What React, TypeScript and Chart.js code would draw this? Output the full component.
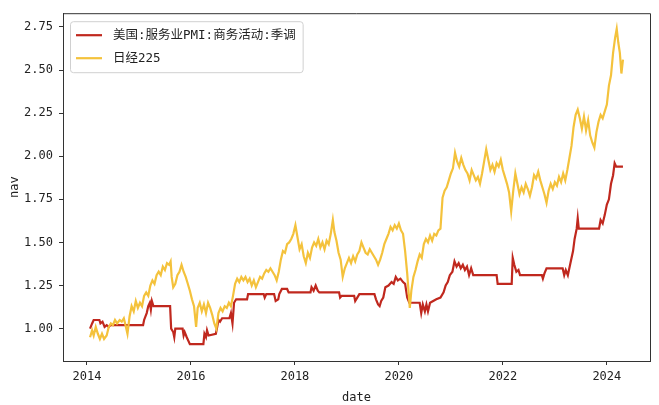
import React, { useEffect, useRef } from "react";
import { Chart, registerables } from "chart.js";
Chart.register(...registerables);

const seriesLabels = ["美国:服务业PMI:商务活动:季调", "日经225"];
const seriesColors = ["#c0281e", "#f4c23c"];

const pmiDates = [
  2014.06, 2014.10, 2014.13, 2014.24, 2014.26, 2014.30, 2014.34, 2014.38, 2014.42, 2014.45,
  2015.08, 2015.10, 2015.15, 2015.18, 2015.21, 2015.23, 2015.25, 2015.28, 2015.60, 2015.62,
  2015.66, 2015.68, 2015.70, 2015.84, 2015.86, 2015.88, 2015.92, 2015.98, 2016.24, 2016.26,
  2016.29, 2016.31, 2016.34, 2016.48, 2016.50, 2016.53, 2016.56, 2016.60, 2016.74, 2016.77,
  2016.80, 2016.83, 2016.87, 2017.08, 2017.10, 2017.40, 2017.42, 2017.45, 2017.60, 2017.63,
  2017.68, 2017.70, 2017.75, 2017.85, 2017.88, 2018.30, 2018.32, 2018.36, 2018.40, 2018.44,
  2018.47, 2018.85, 2018.87, 2018.90, 2019.14, 2019.16, 2019.20, 2019.24, 2019.53, 2019.56,
  2019.60, 2019.63, 2019.66, 2019.70, 2019.74, 2019.80, 2019.86, 2019.90, 2019.94, 2019.98,
  2020.03, 2020.08, 2020.12, 2020.16, 2020.20, 2020.40, 2020.43, 2020.46, 2020.50, 2020.53,
  2020.56, 2020.60, 2020.66, 2020.72, 2020.80, 2020.86, 2020.90, 2020.94, 2020.98, 2021.03,
  2021.07, 2021.11, 2021.15, 2021.19, 2021.23, 2021.27, 2021.31, 2021.35, 2021.39, 2021.43,
  2021.88, 2021.90, 2022.17, 2022.19, 2022.22, 2022.26, 2022.30, 2022.33, 2022.75, 2022.77,
  2022.80, 2022.84, 2023.15, 2023.18, 2023.21, 2023.25, 2023.30, 2023.35, 2023.38, 2023.42,
  2023.44, 2023.46, 2023.85, 2023.88, 2023.92, 2023.96, 2024.00, 2024.04, 2024.08, 2024.12,
  2024.15, 2024.18, 2024.31,
];
const pmiNav = [
  1.00, 1.03, 1.05, 1.05, 1.03, 1.04, 1.01, 1.02, 1.01, 1.02,
  1.02, 1.05, 1.09, 1.13, 1.15, 1.11, 1.16, 1.13, 1.13, 1.00,
  0.98, 0.95, 1.00, 1.00, 0.96, 0.98, 0.95, 0.91, 0.91, 0.97,
  0.95, 0.99, 0.96, 0.97, 1.00, 1.05, 1.04, 1.06, 1.06, 1.09,
  1.03, 1.15, 1.17, 1.17, 1.20, 1.20, 1.18, 1.20, 1.20, 1.16,
  1.17, 1.20, 1.23, 1.23, 1.21, 1.21, 1.24, 1.22, 1.25, 1.22,
  1.21, 1.21, 1.18, 1.19, 1.19, 1.16, 1.18, 1.20, 1.20, 1.17,
  1.14, 1.13, 1.16, 1.18, 1.24, 1.25, 1.27, 1.26, 1.30, 1.28,
  1.29, 1.27, 1.26, 1.18, 1.15, 1.15, 1.09, 1.14, 1.10, 1.14,
  1.10, 1.15, 1.16, 1.17, 1.18, 1.21, 1.25, 1.27, 1.31, 1.33,
  1.39, 1.36, 1.38, 1.35, 1.37, 1.34, 1.36, 1.31, 1.35, 1.31,
  1.31, 1.26, 1.26, 1.41, 1.37, 1.33, 1.34, 1.31, 1.31, 1.29,
  1.32, 1.35, 1.35, 1.31, 1.34, 1.31, 1.38, 1.45, 1.52, 1.58,
  1.64, 1.58, 1.58, 1.63, 1.61, 1.66, 1.72, 1.75, 1.84, 1.89,
  1.96, 1.94, 1.94,
];

const nikkeiDates = [
  2014.06, 2014.10, 2014.13, 2014.17, 2014.21, 2014.25, 2014.29, 2014.33, 2014.38, 2014.42,
  2014.46, 2014.50, 2014.54, 2014.58, 2014.63, 2014.67, 2014.71, 2014.75, 2014.78, 2014.82,
  2014.86, 2014.90, 2014.94, 2014.98, 2015.02, 2015.06, 2015.10, 2015.14, 2015.18, 2015.22,
  2015.26, 2015.30, 2015.34, 2015.38, 2015.42, 2015.46, 2015.50, 2015.54, 2015.58, 2015.61,
  2015.63, 2015.66, 2015.70, 2015.74, 2015.78, 2015.82, 2015.86, 2015.90, 2015.94, 2015.98,
  2016.02, 2016.06, 2016.10, 2016.13, 2016.17, 2016.21, 2016.25, 2016.29, 2016.33, 2016.37,
  2016.41, 2016.45, 2016.49, 2016.53, 2016.57, 2016.61, 2016.65, 2016.69, 2016.73, 2016.77,
  2016.81, 2016.85, 2016.89, 2016.93, 2016.97, 2017.01, 2017.05, 2017.09, 2017.13, 2017.17,
  2017.21, 2017.25, 2017.29, 2017.33, 2017.37, 2017.41, 2017.45, 2017.49, 2017.53, 2017.57,
  2017.61, 2017.65, 2017.69, 2017.73, 2017.77, 2017.81, 2017.85, 2017.89, 2017.93, 2017.97,
  2018.01, 2018.05, 2018.09, 2018.13, 2018.17, 2018.21, 2018.25, 2018.29, 2018.33, 2018.37,
  2018.41, 2018.45, 2018.49, 2018.53, 2018.57, 2018.61, 2018.65, 2018.69, 2018.73, 2018.76,
  2018.80, 2018.84, 2018.88, 2018.92, 2018.96, 2019.00, 2019.04, 2019.08, 2019.12, 2019.16,
  2019.20, 2019.24, 2019.28, 2019.32, 2019.36, 2019.40, 2019.44, 2019.48, 2019.52, 2019.56,
  2019.60, 2019.64, 2019.68, 2019.72, 2019.76, 2019.80, 2019.84, 2019.88, 2019.92, 2019.96,
  2020.00, 2020.04, 2020.08, 2020.12, 2020.16, 2020.19, 2020.21, 2020.24, 2020.28, 2020.32,
  2020.36, 2020.40, 2020.44, 2020.48, 2020.52, 2020.56, 2020.60, 2020.64, 2020.68, 2020.72,
  2020.76, 2020.80, 2020.84, 2020.88, 2020.92, 2020.96, 2021.00, 2021.04, 2021.08, 2021.12,
  2021.16, 2021.20, 2021.24, 2021.28, 2021.32, 2021.36, 2021.40, 2021.44, 2021.48, 2021.52,
  2021.56, 2021.60, 2021.64, 2021.68, 2021.72, 2021.76, 2021.80, 2021.84, 2021.88, 2021.92,
  2021.96, 2022.00, 2022.04, 2022.08, 2022.12, 2022.16, 2022.20, 2022.24, 2022.28, 2022.32,
  2022.36, 2022.40, 2022.44, 2022.48, 2022.52, 2022.56, 2022.60, 2022.64, 2022.68, 2022.72,
  2022.76, 2022.80, 2022.84, 2022.88, 2022.92, 2022.96, 2023.00, 2023.04, 2023.08, 2023.12,
  2023.16, 2023.20, 2023.24, 2023.28, 2023.32, 2023.36, 2023.40, 2023.44, 2023.48, 2023.52,
  2023.56, 2023.60, 2023.64, 2023.68, 2023.72, 2023.76, 2023.80, 2023.84, 2023.88, 2023.92,
  2023.96, 2024.00, 2024.04, 2024.08, 2024.12, 2024.16, 2024.19, 2024.22, 2024.25, 2024.28,
  2024.31,
];
const nikkeiNav = [
  0.95, 0.99, 0.96, 1.01, 0.97, 0.94, 0.97, 0.94, 0.96, 1.01,
  1.03, 1.02, 1.05, 1.03, 1.05, 1.04, 1.06, 1.01, 0.97, 1.07,
  1.13, 1.10, 1.16, 1.12, 1.15, 1.13, 1.19, 1.21, 1.19, 1.25,
  1.28, 1.26, 1.31, 1.33, 1.31, 1.36, 1.34, 1.38, 1.37, 1.39,
  1.30, 1.24, 1.26, 1.31, 1.33, 1.37, 1.33, 1.30, 1.26, 1.22,
  1.17, 1.13, 1.01, 1.12, 1.15, 1.10, 1.14, 1.09, 1.15, 1.12,
  1.08, 1.03, 1.00, 1.09, 1.12, 1.10, 1.13, 1.12, 1.15, 1.13,
  1.19, 1.26, 1.29, 1.27, 1.30, 1.28, 1.30, 1.27, 1.29, 1.25,
  1.28, 1.24, 1.27, 1.30, 1.29, 1.32, 1.34, 1.33, 1.35, 1.33,
  1.31, 1.28, 1.33, 1.40, 1.45, 1.44, 1.49, 1.50, 1.52, 1.55,
  1.60, 1.53, 1.46, 1.49, 1.42, 1.38, 1.44, 1.41, 1.47, 1.50,
  1.48, 1.52, 1.47, 1.50, 1.46, 1.51, 1.49, 1.55, 1.63, 1.56,
  1.51, 1.44, 1.40, 1.30, 1.35, 1.38, 1.41, 1.38, 1.42, 1.39,
  1.43, 1.45, 1.50, 1.47, 1.44, 1.43, 1.46, 1.44, 1.42, 1.40,
  1.37, 1.40, 1.44, 1.49, 1.52, 1.55, 1.59, 1.57, 1.60, 1.58,
  1.61, 1.57, 1.55, 1.45, 1.32, 1.20, 1.12, 1.22, 1.30, 1.34,
  1.39, 1.43, 1.41, 1.49, 1.52, 1.50, 1.54, 1.51, 1.55, 1.54,
  1.57, 1.58, 1.76, 1.80, 1.82, 1.86, 1.90, 1.93, 2.02, 1.97,
  1.94, 1.99, 1.95, 1.92, 1.90, 1.86, 1.92, 1.89, 1.86, 1.88,
  1.84, 1.90, 1.97, 2.04, 1.98, 1.92, 1.95, 1.91, 1.96, 1.94,
  1.98, 1.92, 1.88, 1.84, 1.79, 1.68, 1.80, 1.90, 1.84, 1.78,
  1.82, 1.79, 1.84, 1.81, 1.77, 1.82, 1.89, 1.87, 1.91, 1.86,
  1.82, 1.78, 1.73, 1.80, 1.84, 1.81, 1.85, 1.83, 1.88, 1.85,
  1.90, 1.86, 1.92, 1.99, 2.06, 2.17, 2.24, 2.27, 2.22, 2.16,
  2.23, 2.15, 2.21, 2.12, 2.08, 2.05, 2.14, 2.20, 2.24, 2.22,
  2.26, 2.30, 2.41, 2.47, 2.60, 2.69, 2.74, 2.66, 2.60, 2.48,
  2.56,
];

const xTicks = [2014, 2016, 2018, 2020, 2022, 2024];
const yTicks = [1.0, 1.25, 1.5, 1.75, 2.0, 2.25, 2.5, 2.75];

const FONT = "'DejaVu Sans Mono', 'Noto Sans CJK SC', sans-serif";
const TEXT = "#222";

const framePlugin = {
  id: "frame",
  afterDraw(chart: any) {
    const { ctx, chartArea } = chart;
    const { left, right, top, bottom } = chartArea;
    ctx.save();
    ctx.strokeStyle = "#333";
    ctx.lineWidth = 1;
    ctx.beginPath();
    ctx.moveTo(left, top + 0.5);
    ctx.lineTo(right + 0.5, top + 0.5);
    ctx.lineTo(right + 0.5, bottom);
    ctx.stroke();

    const fontSize = 12.5;
    ctx.font = `${fontSize}px ${FONT}`;
    const ds = chart.data.datasets;
    let maxW = 0;
    ds.forEach((d: any) => {
      maxW = Math.max(maxW, ctx.measureText(d.label).width);
    });
    const bx = left + 7;
    const by = top + 8;
    const bw = 43 + maxW + 7;
    const rowH = 23;
    const bh = 14 + rowH * (ds.length - 1) + 14;
    ctx.fillStyle = "rgba(255,255,255,0.85)";
    ctx.strokeStyle = "#d0d0d0";
    ctx.lineWidth = 1;
    ctx.beginPath();
    const r = 3;
    const x0 = bx + 0.5, y0 = by + 0.5;
    ctx.moveTo(x0 + r, y0);
    ctx.lineTo(x0 + bw - r, y0);
    ctx.quadraticCurveTo(x0 + bw, y0, x0 + bw, y0 + r);
    ctx.lineTo(x0 + bw, y0 + bh - r);
    ctx.quadraticCurveTo(x0 + bw, y0 + bh, x0 + bw - r, y0 + bh);
    ctx.lineTo(x0 + r, y0 + bh);
    ctx.quadraticCurveTo(x0, y0 + bh, x0, y0 + bh - r);
    ctx.lineTo(x0, y0 + r);
    ctx.quadraticCurveTo(x0, y0, x0 + r, y0);
    ctx.closePath();
    ctx.fill();
    ctx.stroke();
    ds.forEach((d: any, i: number) => {
      const cy = by + 14 + i * rowH;
      ctx.strokeStyle = d.borderColor;
      ctx.lineWidth = 2.2;
      ctx.beginPath();
      ctx.moveTo(bx + 6, cy);
      ctx.lineTo(bx + 32, cy);
      ctx.stroke();
      ctx.fillStyle = TEXT;
      ctx.textBaseline = "middle";
      ctx.textAlign = "left";
      ctx.fillText(d.label, bx + 43, cy + 1);
    });
    ctx.restore();
  },
};

export default function App() {
  const ref = useRef<HTMLCanvasElement>(null);
  useEffect(() => {
    if (!ref.current) return;
    const chart = new Chart(ref.current, {
      type: "line",
      data: {
        datasets: [
          {
            label: seriesLabels[0],
            data: pmiDates.map((x, i) => ({ x, y: pmiNav[i] })),
            borderColor: seriesColors[0],
            borderWidth: 2.2,
            pointRadius: 0,
            tension: 0,
            fill: false,
            order: 1,
          },
          {
            label: seriesLabels[1],
            data: nikkeiDates.map((x, i) => ({ x, y: nikkeiNav[i] })),
            borderColor: seriesColors[1],
            borderWidth: 2.2,
            pointRadius: 0,
            tension: 0,
            fill: false,
            order: 0,
          },
        ],
      },
      options: {
        animation: false,
        responsive: false,
        maintainAspectRatio: false,
        layout: { padding: { top: 7, right: 9, left: 0, bottom: 0 } },
        plugins: { legend: { display: false }, tooltip: { enabled: false } },
        scales: {
          x: {
            type: "linear",
            min: 2013.54,
            max: 2024.83,
            afterBuildTicks: (s: any) => {
              s.ticks = xTicks.map((v) => ({ value: v }));
            },
            afterFit: (s: any) => {
              s.height = 44;
            },
            grid: { drawOnChartArea: false, drawTicks: true, tickLength: 4, color: "#333" },
            border: { display: true, color: "#333", width: 1 },
            ticks: {
              color: TEXT,
              font: { family: FONT, size: 12 },
              padding: 5,
              maxRotation: 0,
              autoSkip: false,
              callback: (v: any) => String(v),
            },
            title: {
              display: true,
              text: "date",
              color: TEXT,
              font: { family: FONT, size: 12 },
              padding: { top: 2, bottom: 0 },
            },
          },
          y: {
            type: "linear",
            min: 0.812,
            max: 2.83,
            afterBuildTicks: (s: any) => {
              s.ticks = yTicks.map((v) => ({ value: v }));
            },
            afterFit: (s: any) => {
              s.width = 63;
            },
            grid: { drawOnChartArea: false, drawTicks: true, tickLength: 4, color: "#333" },
            border: { display: true, color: "#333", width: 1 },
            ticks: {
              color: TEXT,
              font: { family: FONT, size: 12 },
              padding: 6,
              autoSkip: false,
              callback: (v: any) => Number(v).toFixed(2),
            },
            title: {
              display: true,
              text: "nav",
              color: TEXT,
              font: { family: FONT, size: 12 },
              padding: { top: 8, bottom: 0 },
            },
          },
        },
      },
      plugins: [framePlugin],
    });
    return () => chart.destroy();
  }, []);
  return (
    <div style={{ position: "absolute", left: 0, top: 0, width: 659, height: 405, background: "#fff" }}>
      <canvas ref={ref} width={659} height={405} />
    </div>
  );
}
